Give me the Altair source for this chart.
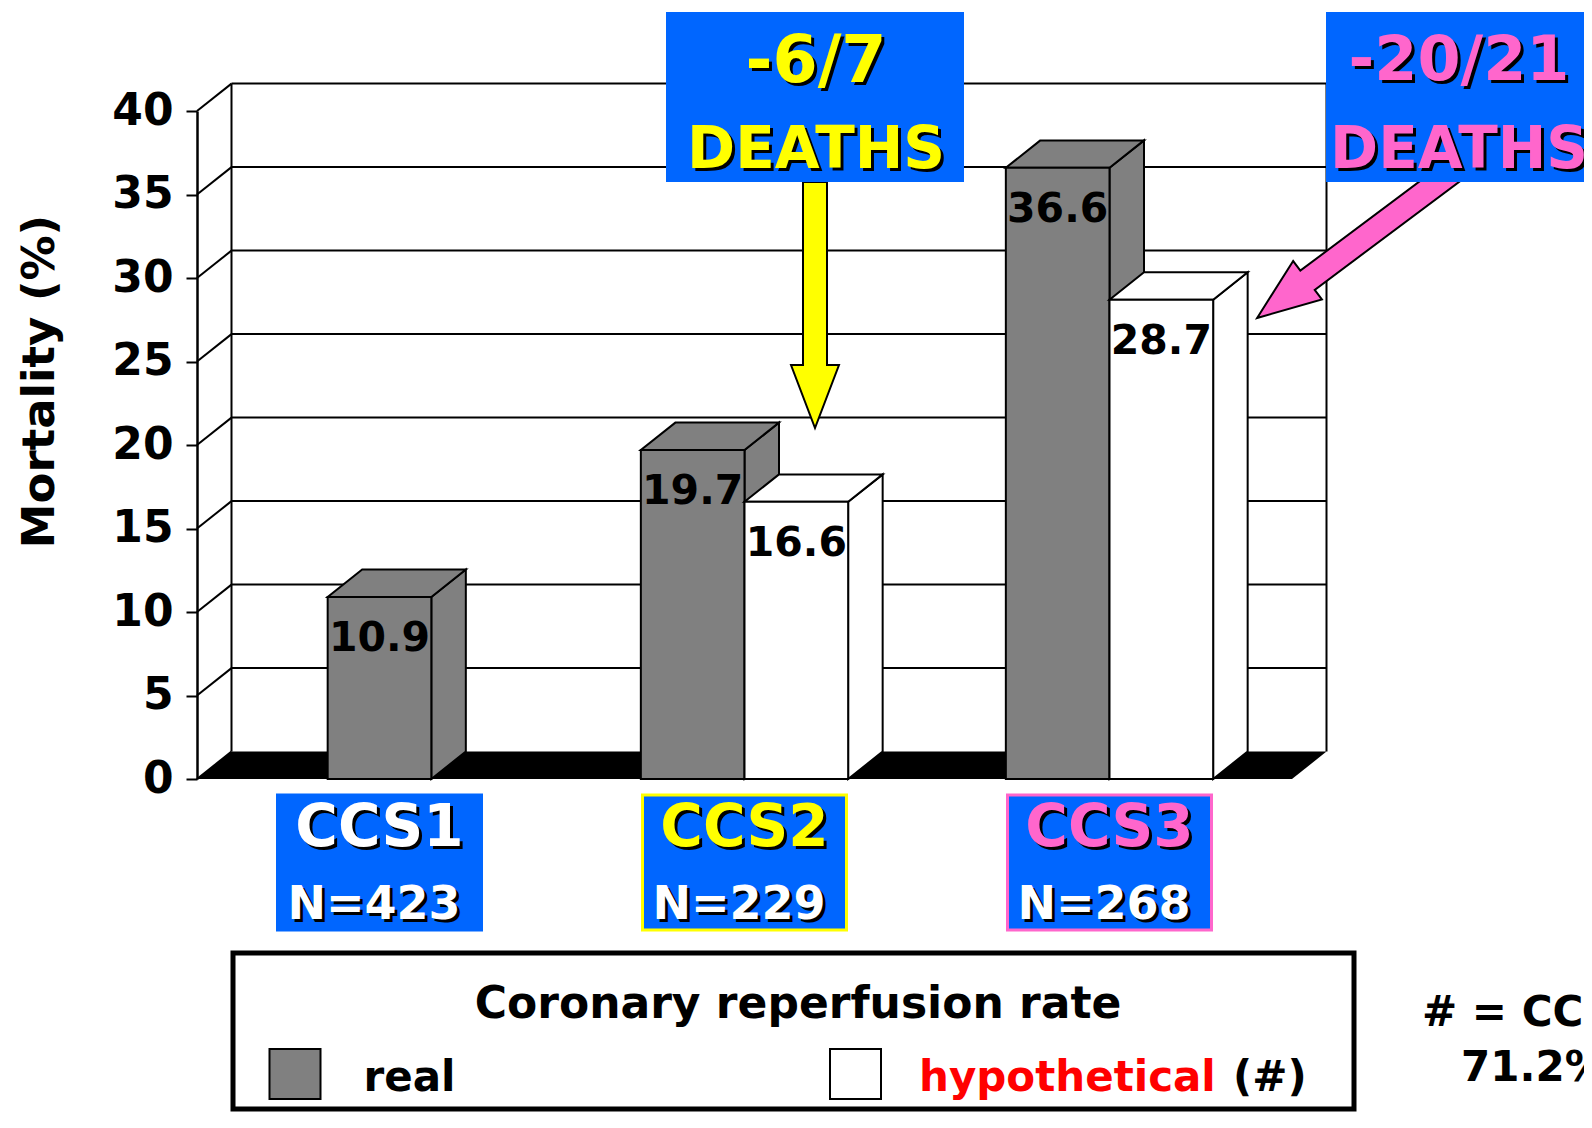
import altair as alt
import pandas as pd

# ---------------- data ----------------
categories = ["CCS1", "CCS2", "CCS3"]
n_labels = ["N=423", "N=229", "N=268"]
real_values = [10.9, 19.7, 36.6]
hypothetical_values = [None, 16.6, 28.7]
series_names = ["real", "hypothetical"]
y_ticks = [0, 5, 10, 15, 20, 25, 30, 35, 40]
annot_top = ["-6/7", "-20/21"]
annot_bottom = ["DEATHS", "DEATHS"]
legend_title = "Coronary reperfusion rate"
footnote = ["# = CCS1", "71.2%"]

# ---------------- styles / geometry ----------------
FONT = "DejaVu Sans"
BLUE = "#0066FF"
YELLOW = "#FFFF00"
PINK = "#FF66CC"
GREY = "#808080"
cat_text_colors = ["white", YELLOW, PINK]
cat_border_colors = [BLUE, YELLOW, PINK]

W, H = 1095, 668
PAD = {"left": 189, "top": 103, "right": 292, "bottom": 333}
BAR_W = 0.284                 # bar width in category units
DX = 34.5 / (W / 3)           # depth offset (x units)
DY = 27.4 / (H / 40)          # depth offset (y units)

xs = alt.Scale(domain=[0, 3], nice=False, zero=False)
ys = alt.Scale(domain=[0, 40], nice=False, zero=False)
color = alt.Color("series:N", scale=alt.Scale(domain=series_names, range=[GREY, "#FFFFFF"]), legend=None)

yaxis = alt.Axis(values=y_ticks, title="Mortality (%)", grid=False, domainColor="black", domainWidth=2.5,
                 tickColor="black", tickWidth=2, tickSize=11, labelFont=FONT, labelFontWeight="bold",
                 labelFontSize=44, labelColor="black", labelPadding=13, labelOverlap=False,
                 titleFont=FONT, titleFontWeight="bold", titleFontSize=45, titleColor="black",
                 titleAngle=270, titleX=-158, titleY=270, titleAlign="center", titleBaseline="middle")


def Y(field):
    return alt.Y(field, type="quantitative", scale=ys, axis=yaxis, title="Mortality (%)")


def X(field):
    return alt.X(field, type="quantitative", scale=xs, axis=None)


# ---------------- tables ----------------
bar_rows, side_rows, top_rows = [], [], []
for i, cat in enumerate(categories):
    c = i + 0.5
    r, h = real_values[i], hypothetical_values[i]
    slots = [("real", r, c - BAR_W / 2)] if h is None else [("real", r, c - BAR_W), ("hypothetical", h, c)]
    for s, v, xl in slots:
        xr = xl + BAR_W
        key = f"{cat}-{s}"
        bar_rows.append(dict(bar=key, series=s, value=v, base=0, xl=xl, xr=xr, xc=xl + BAR_W / 2))
        side_rows += [dict(bar=key, series=s, sx=xr, sy=0, sy2=v),
                      dict(bar=key, series=s, sx=xr + DX, sy=DY, sy2=v + DY)]
        top_rows += [dict(bar=key, series=s, ty=v, tx=xl, tx2=xr),
                     dict(bar=key, series=s, ty=v + DY, tx=xl + DX, tx2=xr + DX)]
bars = pd.DataFrame(bar_rows)
sides = pd.DataFrame(side_rows)
tops = pd.DataFrame(top_rows)

wall_rows = []
for v in y_ticks[1:]:
    wall_rows.append(dict(x=DX, x2=3 + DX, y=v + DY, y2=v + DY))
for v in y_ticks:
    wall_rows.append(dict(x=0, x2=DX, y=v, y2=v + DY))
wall_rows.append(dict(x=DX, x2=DX, y=DY, y2=40 + DY))
wall_rows.append(dict(x=3 + DX, x2=3 + DX, y=DY, y2=40 + DY))
wall = pd.DataFrame(wall_rows)

floor = pd.DataFrame({"fy": [0, DY], "fx": [0, DX], "fx2": [3, 3 + DX]})

cats = pd.DataFrame({"cat": categories, "n": n_labels, "xc": [i + 0.5 for i in range(3)],
                     "tcolor": cat_text_colors, "border": cat_border_colors})

# ---------------- layers ----------------
layers = []
layers.append(alt.Chart(wall).mark_rule(color="black", strokeWidth=2).encode(
    x=X("x"), x2="x2:Q", y=Y("y"), y2="y2:Q"))

layers.append(alt.Chart(floor).mark_area(orient="horizontal", color="black", opacity=1).encode(
    y=Y("fy"), x=X("fx"), x2="fx2:Q"))

for s in series_names:
    layers.append(alt.Chart(sides[sides.series == s]).mark_area(stroke="black", strokeWidth=2, opacity=1).encode(
        x=X("sx"), y=Y("sy"), y2="sy2:Q", detail="bar:N", color=color))
    layers.append(alt.Chart(tops[tops.series == s]).mark_area(orient="horizontal", stroke="black",
                                                               strokeWidth=2, opacity=1).encode(
        y=Y("ty"), x=X("tx"), x2="tx2:Q", detail="bar:N", color=color))
    layers.append(alt.Chart(bars[bars.series == s]).mark_rect(stroke="black", strokeWidth=2, opacity=1).encode(
        x=X("xl"), x2="xr:Q", y=Y("base"), y2="value:Q", color=color))

layers.append(alt.Chart(bars).mark_text(font=FONT, fontWeight="bold", fontSize=41, color="black",
                                        baseline="alphabetic", dy=54).encode(
    x=X("xc"), y=Y("value"), text=alt.Text("value:Q", format=".1f")))

# category boxes
layers.append(alt.Chart(cats).mark_rect(fill=BLUE, strokeWidth=3, xOffset=-102, x2Offset=102).encode(
    x=X("xc"), x2="xc:Q", y=alt.value(684), y2=alt.value(819),
    stroke=alt.Stroke("border:N", scale=None)))
layers.append(alt.Chart(cats).mark_text(font=FONT, fontWeight="bold", fontSize=58, color="black",
                                        baseline="alphabetic", dx=3, dy=3).encode(
    x=X("xc"), y=alt.value(735), text="cat:N"))
layers.append(alt.Chart(cats).mark_text(font=FONT, fontWeight="bold", fontSize=58,
                                        baseline="alphabetic").encode(
    x=X("xc"), y=alt.value(735), text="cat:N", color=alt.Color("tcolor:N", scale=None)))
layers.append(alt.Chart(cats).mark_text(font=FONT, fontWeight="bold", fontSize=46, color="black",
                                        align="left", baseline="alphabetic", dx=-89, dy=3).encode(
    x=X("xc"), y=alt.value(808), text="n:N"))
layers.append(alt.Chart(cats).mark_text(font=FONT, fontWeight="bold", fontSize=46, color="white",
                                        align="left", baseline="alphabetic", dx=-92).encode(
    x=X("xc"), y=alt.value(808), text="n:N"))

one = pd.DataFrame({"a": [0]})


def text_layer(s, x, y, size, col, align="center", shadow=None):
    out = []
    d = pd.DataFrame({"t": [s]})
    if shadow:
        out.append(alt.Chart(d).mark_text(font=FONT, fontWeight="bold", fontSize=size, color=shadow,
                                          align=align, baseline="alphabetic", dx=3, dy=3).encode(
            text="t:N", x=alt.value(x), y=alt.value(y)))
    out.append(alt.Chart(d).mark_text(font=FONT, fontWeight="bold", fontSize=size, color=col,
                                      align=align, baseline="alphabetic").encode(
        text="t:N", x=alt.value(x), y=alt.value(y)))
    return out


def rect_layer(x, x2, y, y2, fill, stroke=None, sw=0):
    kw = dict(fill=fill, opacity=1)
    if stroke:
        kw.update(stroke=stroke, strokeWidth=sw)
    return alt.Chart(one).mark_rect(**kw).encode(x=alt.value(x), x2=alt.value(x2),
                                                 y=alt.value(y), y2=alt.value(y2))


ARROW = "M -0.0976 -1 L 0.0976 -1 L 0.0976 0.488 L 0.195 0.488 L 0 1 L -0.195 0.488 L -0.0976 0.488 Z"


def arrow_layer(x, y, angle, fill):
    return alt.Chart(one).mark_point(shape=ARROW, size=246 * 246, angle=angle, filled=True, fill=fill,
                                     stroke="black", strokeWidth=2, opacity=1).encode(
        x=alt.value(x), y=alt.value(y))


# annotations
layers.append(arrow_layer(618, 194, 0, YELLOW))
layers.append(arrow_layer(1158.6, 133.3, 53.2, PINK))
layers.append(rect_layer(469, 767, -99, 71, BLUE))
layers.append(rect_layer(1129, 1430, -99, 71, BLUE))
layers += text_layer(annot_top[0], 619, -29, 65, YELLOW, shadow="black")
layers += text_layer(annot_bottom[0], 619, 57, 58, YELLOW, shadow="black")
layers += text_layer(annot_top[1], 1262, -31, 62, PINK, shadow="black")
layers += text_layer(annot_bottom[1], 1262, 57, 58, PINK, shadow="black")

# legend
layers.append(rect_layer(36, 1157, 842, 998, "white", "black", 5))
layers += text_layer(legend_title, 601, 907, 44, "black")
layers.append(alt.Chart(pd.DataFrame({"series": series_names, "x": [73, 633.5]})).mark_rect(
    stroke="black", strokeWidth=2, opacity=1, width=51).encode(
    x=alt.X("x:Q", scale=None, axis=None), y=alt.value(938), y2=alt.value(988), color=color,
    xOffset=alt.value(25)))
layers += text_layer(series_names[0], 166.5, 980, 42, "black", align="left")
layers += text_layer(series_names[1], 722, 980, 42, "#FF0000", align="left")
layers += text_layer("(#)", 1036, 980, 42, "black", align="left")

# footnote
layers += text_layer(footnote[0], 1225, 915, 42, "black", align="left")
layers += text_layer(footnote[1], 1264, 970, 42, "black", align="left")

chart = alt.layer(*layers).properties(
    width=W, height=H, padding=PAD, autosize=alt.AutoSizeParams(type="none")
).configure_view(stroke=None)

chart.save("out.html", embed_options={"renderer": "svg", "actions": False})
